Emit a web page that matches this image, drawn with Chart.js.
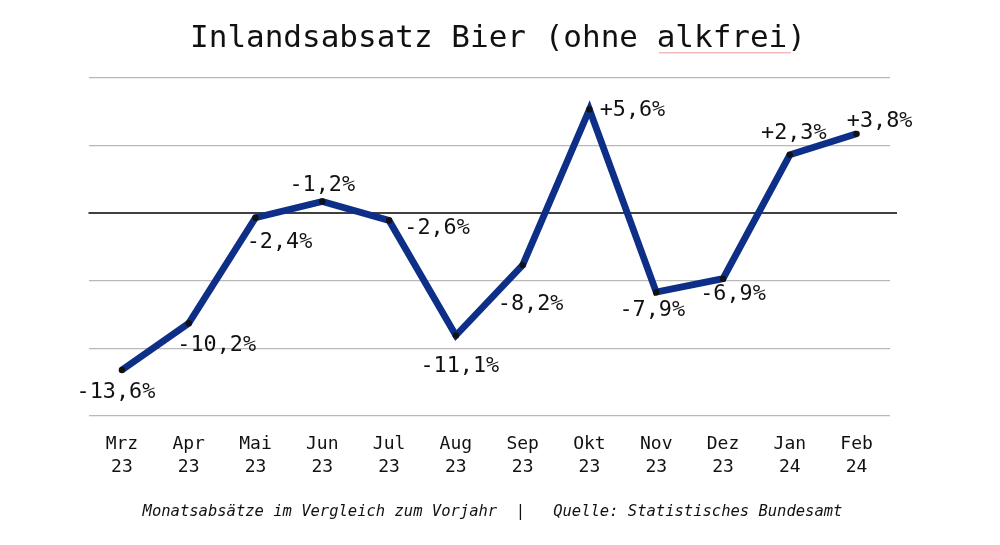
<!DOCTYPE html>
<html>
<head>
<meta charset="utf-8">
<script src="https://cdn.jsdelivr.net/npm/chart.js@4.4.1/dist/chart.umd.min.js"></script>
<style>
html,body{margin:0;padding:0;background:#fff;}
#wrap{width:1000px;height:545px;position:relative;}
</style>
</head>
<body>
<div id="wrap"><canvas id="c" width="1000" height="545"></canvas></div>
<script>
// ---- data ----
const months = ["Mrz","Apr","Mai","Jun","Jul","Aug","Sep","Okt","Nov","Dez","Jan","Feb"];
const years  = ["23","23","23","23","23","23","23","23","23","23","24","24"];
// plotted level (relative units, gridline step = 1)
const levels = [-2.32,-1.63,-0.07,0.17,-0.11,-1.81,-0.77,1.53,-1.17,-0.97,0.86,1.17];
// year-on-year change shown as label
const changeLabels = ["-13,6%","-10,2%","-2,4%","-1,2%","-2,6%","-11,1%","-8,2%","+5,6%","-7,9%","-6,9%","+2,3%","+3,8%"];
const titleText = "Inlandsabsatz Bier (ohne alkfrei)";
const footerText = "Monatsabsätze im Vergleich zum Vorjahr  |   Quelle: Statistisches Bundesamt";

// ---- label placement (style) ----
const labelOffsets = [[-6,22],[28,22],[24,25],[0,-16],[48,8],[4,31],[8,39],[43,1],[-4,18],[10,16],[4,-21],[23,-13]];

const MONO = "'DejaVu Sans Mono','Liberation Mono',monospace";

const decor = {
  id:'decor',
  beforeDatasetsDraw(chart){
    const {ctx, chartArea, scales} = chart;
    const y0 = scales.y.getPixelForValue(0);
    ctx.save();
    ctx.strokeStyle = '#000';
    ctx.lineWidth = 1.4;
    ctx.beginPath();
    ctx.moveTo(chartArea.left, y0);
    ctx.lineTo(chartArea.right + 7, y0);
    ctx.stroke();
    ctx.restore();
  },
  afterDatasetsDraw(chart){
    const {ctx} = chart;
    const meta = chart.getDatasetMeta(0);
    ctx.save();
    ctx.font = "21.8px " + MONO;
    ctx.fillStyle = '#111';
    ctx.textAlign = 'center';
    ctx.textBaseline = 'middle';
    meta.data.forEach((pt,i)=>{
      const o = labelOffsets[i];
      ctx.fillText(changeLabels[i], pt.x + o[0], pt.y + o[1]);
    });
    ctx.restore();
  },
  afterDraw(chart){
    const {ctx} = chart;
    ctx.save();
    ctx.fillStyle = '#111';
    ctx.textAlign = 'center';
    ctx.textBaseline = 'alphabetic';
    ctx.font = "31px " + MONO;
    ctx.fillText(titleText, 498, 47);
    // faint spell-check underline under "alkfrei"
    ctx.strokeStyle = 'rgba(220,90,90,0.6)';
    ctx.lineWidth = 1;
    ctx.beginPath();
    for (let x = 659; x <= 791; x += 2) {
      const yy = 52 + ((x/2)%2 ? 0.8 : -0.8);
      if (x === 659) ctx.moveTo(x, yy); else ctx.lineTo(x, yy);
    }
    ctx.stroke();
    ctx.font = "italic 15.5px " + MONO;
    ctx.fillText(footerText, 492.5, 516);
    ctx.restore();
  }
};

new Chart(document.getElementById('c'), {
  type:'line',
  data:{
    labels: months.map((m,i)=>[m, years[i]]),
    datasets:[{
      data: levels,
      borderColor:'#0e2f87',
      borderWidth:6.8,
      pointRadius:3.2,
      pointHoverRadius:3.2,
      pointBackgroundColor:'#111',
      pointBorderWidth:0,
      tension:0,
      clip:false
    }]
  },
  options:{
    responsive:false,
    animation:false,
    devicePixelRatio:1,
    layout:{padding:{top:77.7,right:110,bottom:0,left:0}},
    plugins:{legend:{display:false},tooltip:{enabled:false},title:{display:false}},
    scales:{
      x:{
        offset:true,
        grid:{display:false, drawTicks:false},
        border:{display:false},
        ticks:{color:'#111', font:{family:MONO, size:18, lineHeight:1.28}, padding:17, maxRotation:0, autoSkip:false},
        afterFit(s){ s.height = 545 - 416; }
      },
      y:{
        min:-3, max:2,
        ticks:{display:false, stepSize:1},
        grid:{color:(c)=> c.tick && c.tick.value===0 ? 'rgba(0,0,0,0)' : '#b9b9b9', lineWidth:1.3, drawTicks:false},
        border:{display:false},
        afterFit(s){ s.width = 88.5; }
      }
    }
  },
  plugins:[decor]
});
</script>
</body>
</html>
